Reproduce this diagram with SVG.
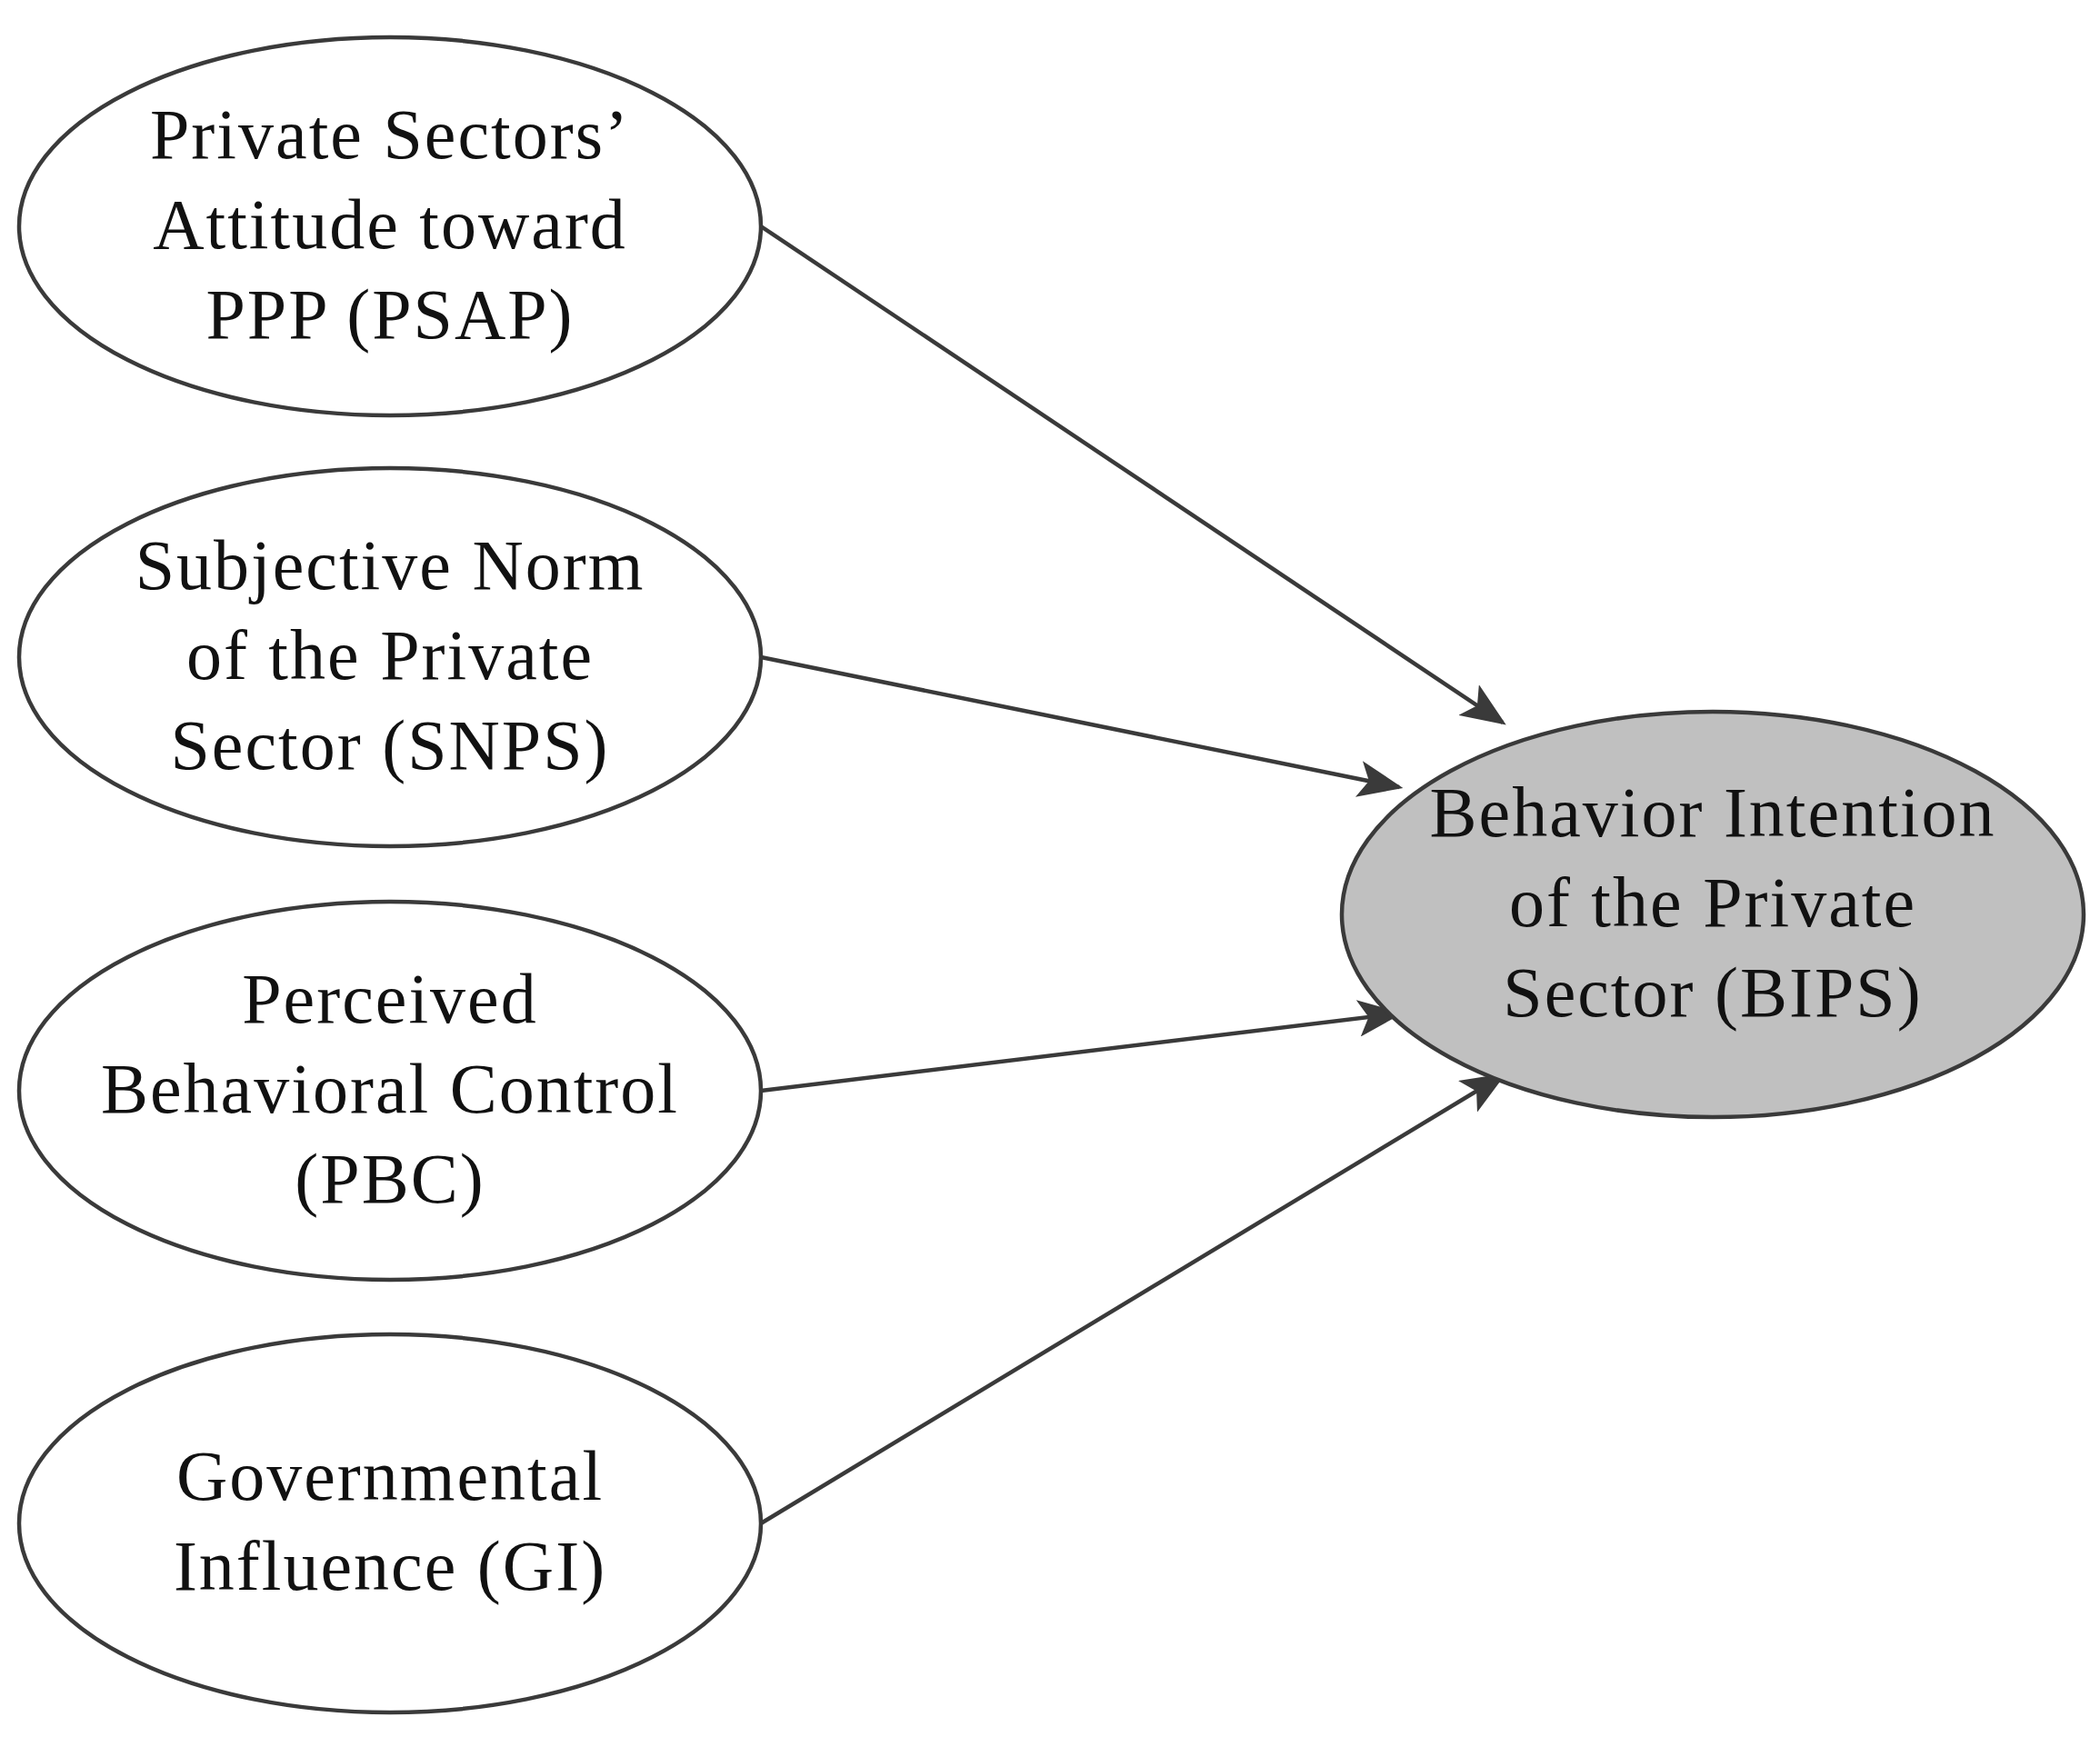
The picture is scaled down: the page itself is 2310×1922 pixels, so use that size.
<svg xmlns="http://www.w3.org/2000/svg" width="2310" height="1922" viewBox="0 0 2310 1922">
<style>
.n{fill:#fff;stroke:#3a3a3a;stroke-width:4.5}
.g{fill:#c0c0c0;stroke:#3a3a3a;stroke-width:4.5}
text{font-family:"Liberation Serif","Times New Roman",serif;font-size:78px;letter-spacing:2px;fill:#111;text-anchor:middle}
.c{stroke:#3a3a3a;stroke-width:4.5;fill:none;marker-end:url(#a)}
</style>
<defs><marker id="a" markerWidth="11" markerHeight="9" refX="10" refY="4.5" orient="auto" markerUnits="strokeWidth"><path d="M0,0 L11,4.5 L0,9 L2.5,4.5 Z" fill="#3a3a3a"/></marker></defs>
<rect width="2310" height="1922" fill="#fff"/>
<g id="connectors">
<line class="c" x1="837" y1="249" x2="1653" y2="795"/>
<line class="c" x1="837" y1="723" x2="1539" y2="866"/>
<line class="c" x1="837" y1="1200" x2="1539" y2="1115"/>
<line class="c" x1="837" y1="1676" x2="1653" y2="1183"/>
</g>
<g id="psap"><ellipse class="n" cx="429" cy="249" rx="408" ry="208"/>
<text x="429" y="174">Private Sectors’</text><text x="429" y="273">Attitude toward</text><text x="429" y="372">PPP (PSAP)</text></g>
<g id="snps"><ellipse class="n" cx="429" cy="723" rx="408" ry="208"/>
<text x="429" y="648">Subjective Norm</text><text x="429" y="747">of the Private</text><text x="429" y="846">Sector (SNPS)</text></g>
<g id="pbc"><ellipse class="n" cx="429" cy="1200" rx="408" ry="208"/>
<text x="429" y="1125">Perceived</text><text x="429" y="1224">Behavioral Control</text><text x="429" y="1323">(PBC)</text></g>
<g id="gi"><ellipse class="n" cx="429" cy="1676" rx="408" ry="208"/>
<text x="429" y="1650">Governmental</text><text x="429" y="1749">Influence (GI)</text></g>
<g id="bips"><ellipse class="g" cx="1884" cy="1006" rx="408" ry="223"/>
<text x="1884" y="920">Behavior Intention</text><text x="1884" y="1019">of the Private</text><text x="1884" y="1118">Sector (BIPS)</text></g>
</svg>
